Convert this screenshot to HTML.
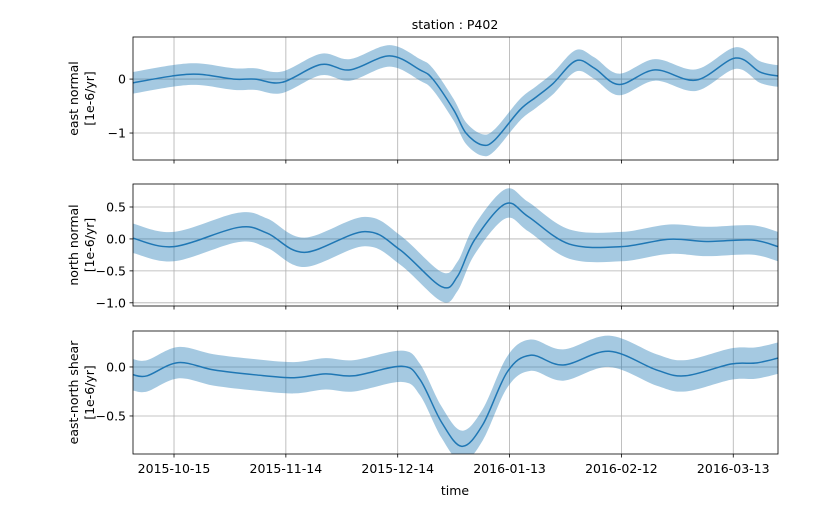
<!DOCTYPE html>
<html><head><meta charset="utf-8"><style>
html,body{margin:0;padding:0;background:#fff;}
svg{display:block;font-family:"DejaVu Sans","Liberation Sans",sans-serif;}
</style></head><body>
<svg id="chart" width="823" height="517" viewBox="0 0 823 517"></svg>
<script>
const xTickDays = [0, 30, 60, 90, 120, 150];
const xTickLabels = ["2015-10-15","2015-11-14","2015-12-14","2016-01-13","2016-02-12","2016-03-13"];
const p1Days = [-11,-0.6,6.7,16,21.7,29,39.4,47.2,57.8,66,69.4,75,78.3,82.6,86,92.8,97.2,101.7,107.8,112.8,119.4,129,140,150.6,157.2,162];
const p1Vals = [-0.07,0.056,0.09,0.0,0.0,-0.06,0.27,0.17,0.43,0.17,0.0,-0.57,-1.0,-1.22,-1.13,-0.57,-0.33,-0.08,0.34,0.2,-0.1,0.17,-0.02,0.39,0.13,0.056];
const p1Std = 0.2;
const p2Days = [-11,0,17.2,25,35,51.1,60.6,71.7,76,80.6,88.9,95,106,120,132.8,142.8,155,162];
const p2Vals = [0.01,-0.12,0.18,0.09,-0.21,0.115,-0.17,-0.745,-0.59,-0.016,0.55,0.35,-0.08,-0.12,-0.005,-0.04,-0.016,-0.12];
const p2Std = 0.23;
const p3Days = [-11,-7.2,1.1,10.6,21.7,32.2,40.6,48.3,61.1,66,71.7,77.2,82.8,89.4,95.6,104.4,116.7,129.4,137.2,149.4,156,162];
const p3Vals = [-0.08,-0.09,0.044,-0.03,-0.08,-0.11,-0.07,-0.09,0.007,-0.13,-0.56,-0.81,-0.59,-0.05,0.12,0.02,0.16,-0.03,-0.09,0.03,0.04,0.09];
const p3Std = 0.16;
const p1Ticks = [0,-1], p1TickLabels = ["0","−1"];
const p2Ticks = [0.5,0,-0.5,-1.0], p2TickLabels = ["0.5","0.0","−0.5","−1.0"];
const p3Ticks = [0,-0.5], p3TickLabels = ["0.0","−0.5"];

const NS="http://www.w3.org/2000/svg";
const svg=document.getElementById('chart');
const L=133,R=778,X0=-11,X1=162,FS=12.5;
const xs=d=>L+(d-X0)/(X1-X0)*(R-L);
function mk(tag,attrs,parent){const e=document.createElementNS(NS,tag);for(const k in attrs)e.setAttribute(k,attrs[k]);(parent||svg).appendChild(e);return e;}
function smooth(pts){
  let d=`M${pts[0][0]},${pts[0][1]}`;
  for(let i=0;i<pts.length-1;i++){
    const p0=pts[Math.max(0,i-1)],p1=pts[i],p2=pts[i+1],p3=pts[Math.min(pts.length-1,i+2)];
    const c1x=p1[0]+(p2[0]-p0[0])/6,c1y=p1[1]+(p2[1]-p0[1])/6;
    const c2x=p2[0]-(p3[0]-p1[0])/6,c2y=p2[1]-(p3[1]-p1[1])/6;
    d+=` C${c1x},${c1y} ${c2x},${c2y} ${p2[0]},${p2[1]}`;
  }
  return d;
}
function panel(name,top,bot,ymin,ymax,days,vals,std,ticks,tlabels,ylab,showX){
  const ys=v=>bot-(v-ymin)/(ymax-ymin)*(bot-top);
  const g=mk('g',{});
  
  
  const cid='clip-'+name;
  const cp=mk('clipPath',{id:cid},g);mk('rect',{x:L,y:top,width:R-L,height:bot-top},cp);
  xTickDays.forEach(d=>{const l=mk('line',{x1:xs(d),x2:xs(d),y1:top,y2:bot,stroke:'#b0b0b0','stroke-width':0.8},g);
    
    const t=mk('line',{x1:xs(d),x2:xs(d),y1:bot,y2:bot+3.5,stroke:'#000','stroke-width':0.8},g);
    });
  ticks.forEach((v,i)=>{const l=mk('line',{x1:L,x2:R,y1:ys(v),y2:ys(v),stroke:'#b0b0b0','stroke-width':0.8},g);
    
    mk('line',{x1:L-3.5,x2:L,y1:ys(v),y2:ys(v),stroke:'#000','stroke-width':0.8},g);
    const t=mk('text',{x:L-7,y:ys(v)+4.5,'text-anchor':'end','font-size':FS,fill:'#000'},g);t.textContent=tlabels[i];
    });
  const up=days.map((d,i)=>[xs(d),ys(vals[i]+std)]);
  const lo=days.map((d,i)=>[xs(d),ys(vals[i]-std)]).reverse();
  const bd=smooth(up)+' L'+smooth(lo).slice(1)+' Z';
  const band=mk('path',{d:bd,fill:'#1f77b4','fill-opacity':0.4,stroke:'none','clip-path':`url(#${cid})`},g);
  
  const line=mk('path',{d:smooth(days.map((d,i)=>[xs(d),ys(vals[i])])),fill:'none',stroke:'#1f77b4','stroke-width':1.5,'clip-path':`url(#${cid})`},g);
  
  const fr=mk('rect',{x:L,y:top,width:R-L,height:bot-top,fill:'none',stroke:'#000','stroke-width':0.8},g);
  
  const cy=(top+bot)/2;
  const yl=mk('text',{transform:`translate(78,${cy}) rotate(-90)`,'text-anchor':'middle','font-size':FS,fill:'#000'},g);
  
  const s1=mk('tspan',{x:0,dy:0},yl);s1.textContent=ylab;
  const s2=mk('tspan',{x:0,dy:16},yl);s2.textContent='[1e-6/yr]';
  if(showX){xTickDays.forEach((d,i)=>{const t=mk('text',{x:xs(d),y:bot+19,'text-anchor':'middle','font-size':FS,fill:'#000'},g);t.textContent=xTickLabels[i];
    });}
}
panel('east-normal-panel',37,160,-1.5,0.78,p1Days,p1Vals,p1Std,p1Ticks,p1TickLabels,'east normal',false);
panel('north-normal-panel',184,306,-1.05,0.86,p2Days,p2Vals,p2Std,p2Ticks,p2TickLabels,'north normal',false);
panel('east-north-shear-panel',331,454,-0.888,0.367,p3Days,p3Vals,p3Std,p3Ticks,p3TickLabels,'east-north shear',true);
const title=mk('text',{x:455,y:29,'text-anchor':'middle','font-size':FS,fill:'#000'});title.textContent='station : P402';

const xt=mk('text',{x:455,y:495,'text-anchor':'middle','font-size':FS,fill:'#000'});xt.textContent='time';

</script>
</body></html>
